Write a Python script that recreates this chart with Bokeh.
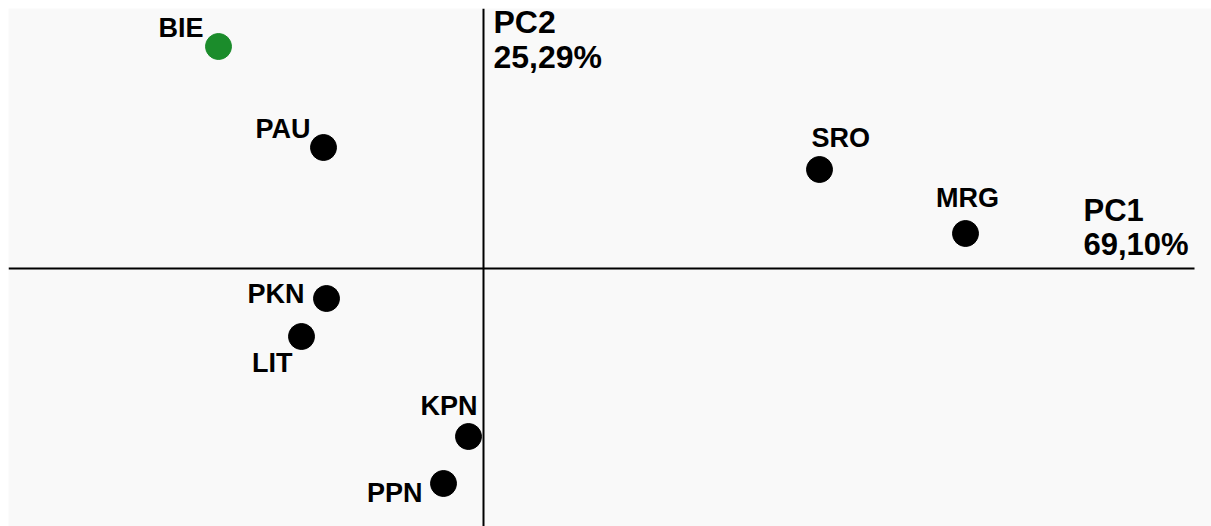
from bokeh.plotting import figure
from bokeh.models import Range1d, ColumnDataSource, Label
from bokeh.core.properties import value
from bokeh.embed import file_html
from bokeh.resources import INLINE

# ---- data (PCA scores) ----
sites = ["BIE", "PAU", "SRO", "MRG", "PKN", "LIT", "KPN", "PPN"]
pc1 = [-2.65, -1.60, 3.36, 4.82, -1.57, -1.82, -0.15, -0.40]
pc2 = [2.22, 1.21, 0.99, 0.35, -0.30, -0.68, -1.68, -2.15]
pc1_label = ["PC1", "69,10%"]
pc2_label = ["PC2", "25,29%"]

# ---- styles ----
colors = ["#1b8c2b"] + ["#000000"] * 7
label_align = ["right", "right", "left", "center", "right", "right", "right", "right"]
label_dx = [-15, -13, -8, 2, -22, -9, 9, -21]
label_dy = [-19, -19, -32, -36, -5, 26, -31, 9]

FONT = value("Liberation Sans")
W, H = 1211, 526
x0, x1 = -4.75, 7.28
y0, y1 = -2.58, 2.60

p = figure(width=W, height=H, x_range=Range1d(x0, x1), y_range=Range1d(y0, y1),
           output_backend="svg", toolbar_location=None, min_border=0,
           min_border_left=8, min_border_top=8,
           background_fill_color="#f9f9f9", border_fill_color="white",
           outline_line_color=None)
p.xaxis.visible = False
p.yaxis.visible = False
p.grid.visible = False

# axes through the origin
p.segment(x0=[x0], y0=[0], x1=[7.11], y1=[0], line_color="black", line_width=2)
p.segment(x0=[0], y0=[y0], x1=[0], y1=[y1], line_color="black", line_width=2)

src = ColumnDataSource(dict(x=pc1, y=pc2, site=sites, color=colors,
                            align=label_align, dx=label_dx, dy=label_dy))
p.scatter("x", "y", source=src, size=26, fill_color="color", line_color="color")
p.text("x", "y", text="site", source=src, x_offset="dx", y_offset="dy",
       text_align="align", text_baseline="alphabetic",
       text_font=FONT, text_font_style="bold", text_font_size="27px",
       text_color="black")

# axis titles
for txt, yy in zip(pc2_label, [2.47, 2.12]):
    p.add_layout(Label(x=0, y=yy, x_offset=10, text=txt, text_font="Liberation Sans",
                       text_font_style="bold", text_font_size="32px",
                       text_baseline="alphabetic", text_color="black"))
for txt, yy in zip(pc1_label, [0.58, 0.24]):
    p.add_layout(Label(x=6.00, y=yy, text=txt, text_font="Liberation Sans",
                       text_font_style="bold", text_font_size="31px",
                       text_baseline="alphabetic", text_color="black"))

open("out.html", "w").write(file_html(p, INLINE))
